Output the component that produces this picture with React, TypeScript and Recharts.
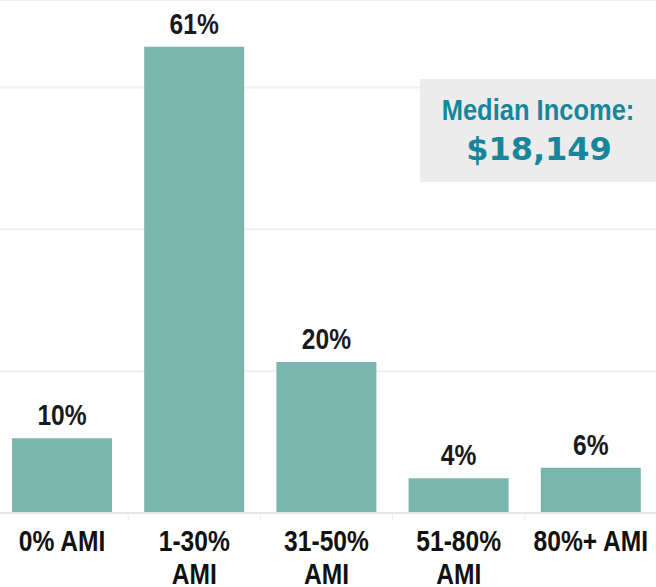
import { BarChart, Bar, XAxis, YAxis, CartesianGrid, LabelList } from "recharts"

const categories = ["0% AMI", "1-30%\nAMI", "31-50%\nAMI", "51-80%\nAMI", "80%+ AMI"]
const shares = [9.9, 61.8, 20.0, 4.6, 6.0]
const shareLabels = ["10%", "61%", "20%", "4%", "6%"]
const gridTicks = [0, 18.8, 37.6, 56.4]
const medianTitle = "Median Income:"
const medianValue = "$18,149"

const data = categories.map((name, i) => ({ name, share: shares[i], label: shareLabels[i] }))

const W = 656
const H = 587
const CHART_LEFT = -4
const CHART_W = 661
const PLOT_BOTTOM = 513
const BAND = CHART_W / categories.length

// no narrow font installed, so squeeze Liberation Sans sideways
const sans = "'Liberation Sans', Arial, sans-serif"
const SQUEEZE = 0.82

function NarrowText({ x, y, size, fill, children }: any) {
  return (
    <g transform={`translate(${x},${y}) scale(${SQUEEZE},1)`}>
      <text x={0} y={0} textAnchor="middle" fontFamily={sans} fontWeight={700} fontSize={size} fill={fill}>
        {children}
      </text>
    </g>
  )
}

function CategoryTick(props: any) {
  const { x, payload, index } = props
  const lines = String(payload.value).split("\n")
  return (
    <g>
      {index > 0 && (
        <line
          x1={x - BAND / 2}
          x2={x - BAND / 2}
          y1={PLOT_BOTTOM}
          y2={PLOT_BOTTOM + 8}
          stroke="#ececec"
          strokeWidth={1}
        />
      )}
      {lines.map((line, i) => (
        <NarrowText key={i} x={x} y={PLOT_BOTTOM + 38 + i * 33} size={30} fill="#111">
          {line}
        </NarrowText>
      ))}
    </g>
  )
}

function ValueLabel(props: any) {
  const { x, y, width, value } = props
  return (
    <NarrowText x={x + width / 2} y={y - 13} size={30} fill="#1a1a1a">
      {value}
    </NarrowText>
  )
}

export default function App() {
  return (
    <div style={{ position: "fixed", left: 0, top: 0, width: W, height: H, background: "#fff", overflow: "hidden" }}>
      <div style={{ position: "absolute", left: CHART_LEFT, top: 0 }}>
        <BarChart
          width={CHART_W}
          height={H}
          data={data}
          margin={{ top: 0, right: 0, bottom: 0, left: 0 }}
          barCategoryGap={16}
        >
          <CartesianGrid vertical={false} stroke="#f0f0f0" strokeWidth={2} />
          <YAxis hide domain={[0, 68]} ticks={gridTicks} width={0} />
          <XAxis
            dataKey="name"
            axisLine={{ stroke: "#e6e6e6", strokeWidth: 2 }}
            tickLine={false}
            interval={0}
            height={H - PLOT_BOTTOM}
            tick={<CategoryTick />}
          />
          <Bar dataKey="share" fill="#7ab5ae" isAnimationActive={false}>
            <LabelList dataKey="label" content={<ValueLabel />} />
          </Bar>
        </BarChart>
      </div>
      <svg style={{ position: "absolute", left: 0, top: 0 }} width={W} height={H}>
        <rect x={420} y={79} width={W - 420} height={103} fill="#ececec" />
        <g transform={`translate(538,120) scale(0.85,1)`}>
          <text x={0} y={0} textAnchor="middle" fontFamily={sans} fontWeight={700} fontSize={30} fill="#16869a">
            {medianTitle}
          </text>
        </g>
        <text
          x={539}
          y={160}
          textAnchor="middle"
          fontFamily="'DejaVu Sans', sans-serif"
          fontWeight={700}
          fontSize={32}
          fill="#16869a"
        >
          {medianValue}
        </text>
      </svg>
    </div>
  )
}
